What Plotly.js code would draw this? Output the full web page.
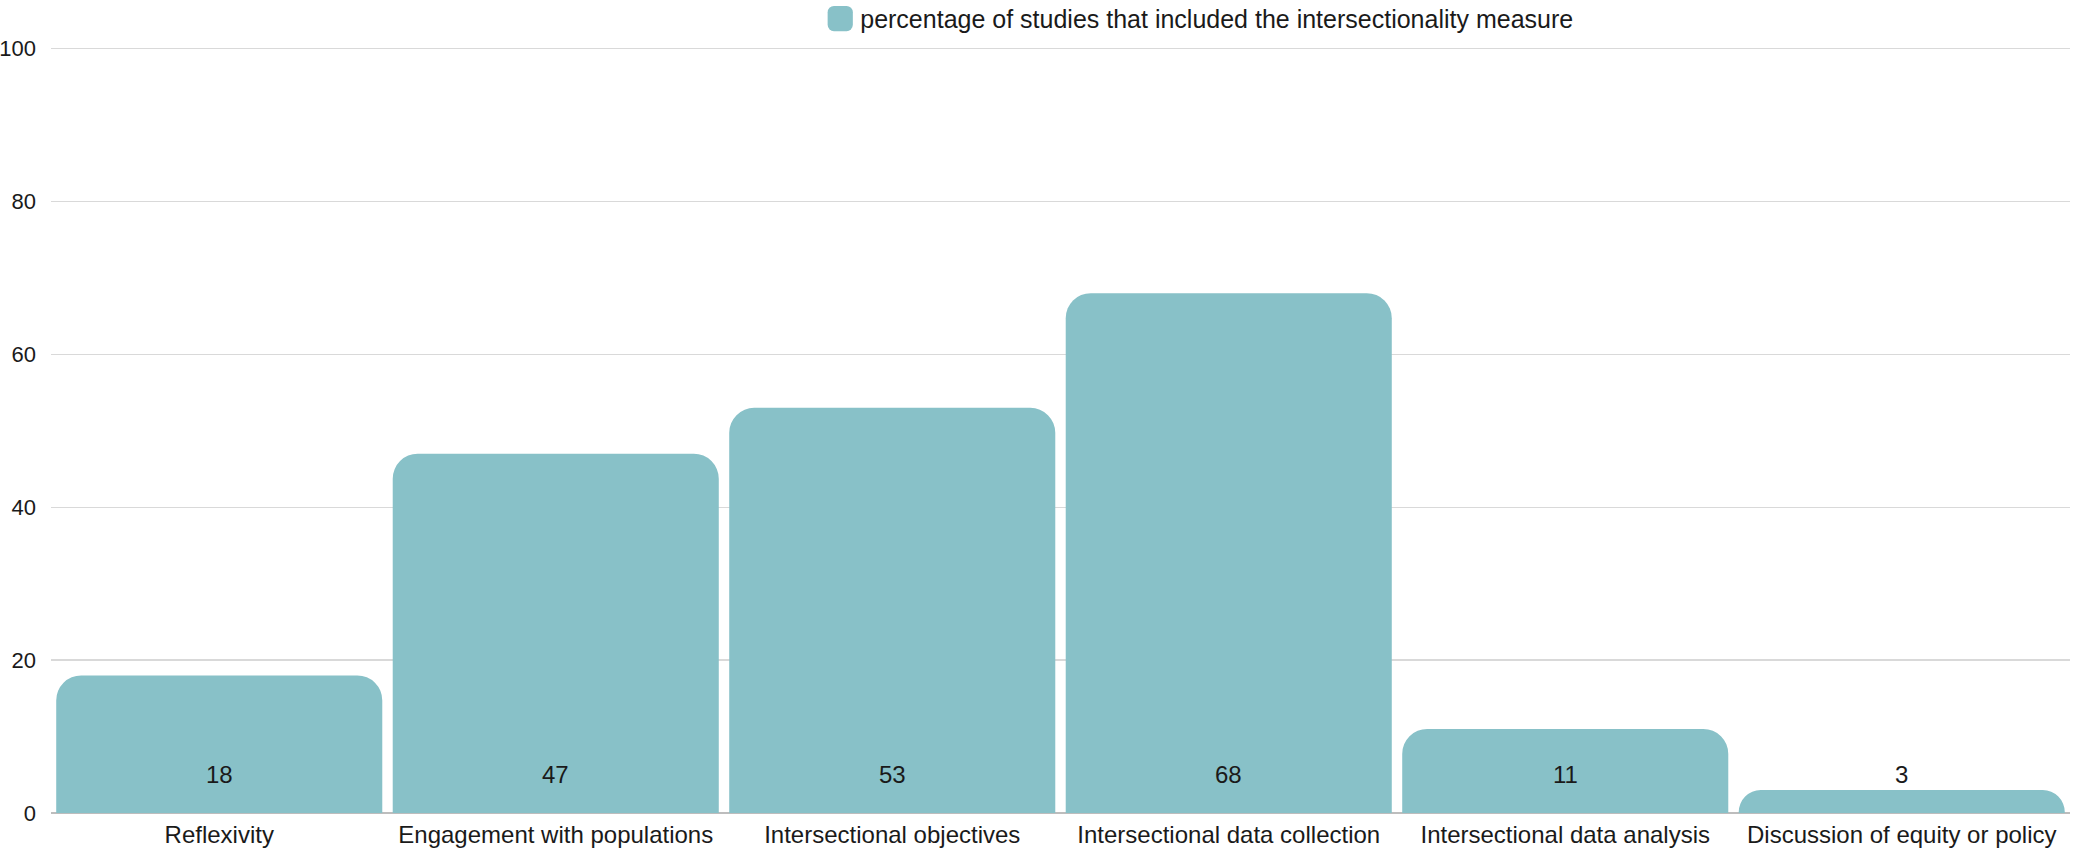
<!DOCTYPE html>
<html>
<head>
<meta charset="utf-8">
<script src="https://cdn.plot.ly/plotly-3.0.1.min.js"></script>
<style>
html,body{margin:0;padding:0;background:#fff;}
#chart{width:2074px;height:854px;}
</style>
</head>
<body>
<div id="chart"></div>
<script>
var categories = ["Reflexivity", "Engagement with populations", "Intersectional objectives", "Intersectional data collection", "Intersectional data analysis", "Discussion of equity or policy"];
var percentages = [18, 47, 53, 68, 11, 3];
var seriesName = "percentage of studies that included the intersectionality measure";
var yTicks = [0, 20, 40, 60, 80, 100];

var FONT = "Liberation Sans, Arial, sans-serif";
var TEXT = "#1a1a1a";

var trace = {
  type: "bar",
  x: categories,
  y: percentages,
  name: seriesName,
  marker: {color: "#88c1c8", cornerradius: 25, line: {width: 0}},
  hoverinfo: "x+y",
  showlegend: true
};

var labelAnnotations = categories.map(function (c, i) {
  return {
    x: c, y: 5, xref: "x", yref: "y",
    text: String(percentages[i]),
    showarrow: false,
    xanchor: "center", yanchor: "middle",
    font: {family: FONT, size: 24, color: TEXT}
  };
});

var layout = {
  width: 2074, height: 854,
  margin: {l: 51, r: 4, t: 47, b: 41, pad: 0},
  paper_bgcolor: "#ffffff",
  plot_bgcolor: "#ffffff",
  font: {family: FONT, size: 24, color: TEXT},
  bargap: 0.031,
  showlegend: true,
  legend: {
    orientation: "h",
    xref: "paper", x: 0.381, xanchor: "left",
    yref: "container", y: 0.978, yanchor: "middle",
    font: {family: FONT, size: 25, color: TEXT},
    bgcolor: "rgba(0,0,0,0)"
  },
  xaxis: {
    type: "category",
    showgrid: false,
    showline: false,
    zeroline: false,
    ticks: "",
    ticklabelstandoff: 5,
    tickfont: {family: FONT, size: 24, color: TEXT},
    automargin: false
  },
  yaxis: {
    range: [0, 100.2],
    tickvals: yTicks,
    ticktext: yTicks.map(String),
    showgrid: true,
    gridcolor: "#d9d9d9",
    gridwidth: 1.3,
    zeroline: true,
    zerolinecolor: "#bdbdbd",
    zerolinewidth: 1.5,
    showline: false,
    ticks: "",
    ticklabelstandoff: 14,
    tickfont: {family: FONT, size: 22, color: TEXT},
    automargin: false,
    fixedrange: true
  },
  annotations: labelAnnotations
};

Plotly.newPlot("chart", [trace], layout, {displayModeBar: false, staticPlot: true}).then(function (gd) {
  // enlarge the legend swatch to match the reference's larger square
  gd.querySelectorAll(".legend .legendpoints path").forEach(function (p) {
    var b = p.getBBox();
    var cx = b.x + b.width / 2, cy = b.y + b.height / 2;
    var t = p.getAttribute("transform") || "";
    p.setAttribute("transform", t + " translate(" + cx + "," + cy + ") scale(2.1) translate(" + (-cx) + "," + (-cy) + ")");
  });
});
</script>
</body>
</html>
